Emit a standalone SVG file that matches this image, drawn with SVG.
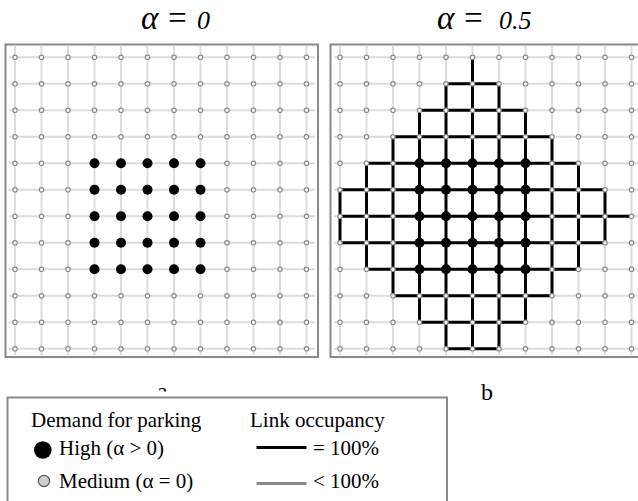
<svg xmlns="http://www.w3.org/2000/svg" xmlns:xlink="http://www.w3.org/1999/xlink" width="638" height="501" viewBox="0 0 638 501">
<style>
.title{font-family:"Liberation Serif",Tinos,"Times New Roman",Times,"Noto Serif","DejaVu Serif",FreeSerif,serif;font-style:italic;fill:#000}
.lbl{font-family:"Liberation Serif",Tinos,"Times New Roman",Times,"Noto Serif","DejaVu Serif",FreeSerif,serif;font-size:24px;fill:#000}
.leg{font-family:"Liberation Serif",Tinos,"Times New Roman",Times,"Noto Serif","DejaVu Serif",FreeSerif,serif;font-size:21px;fill:#000}
.frame{fill:#fff;stroke:#8a8a8a;stroke-width:2}
.grid{fill:none;stroke:#dcdcdc;stroke-width:2}
.full{fill:none;stroke:#000;stroke-width:3;stroke-linecap:square}
.sn{fill:#fff;stroke:#8a8a8a;stroke-width:1.2}
.hi{fill:#000}
</style>
<defs>
<path id="gridpath" class="grid" d="M-6 0H300M-6 26.5H300M-6 53H300M-6 79.5H300M-6 106H300M-6 132.5H300M-6 159H300M-6 185.5H300M-6 212H300M-6 238.5H300M-6 265H300M-6 291.5H300M0 -12V298M26.5 -12V298M53 -12V298M79.5 -12V298M106 -12V298M132.5 -12V298M159 -12V298M185.5 -12V298M212 -12V298M238.5 -12V298M265 -12V298M291.5 -12V298"/>
<g id="row">
<circle class="sn" cx="0" cy="0" r="2.2"/><circle class="sn" cx="26.5" cy="0" r="2.2"/><circle class="sn" cx="53" cy="0" r="2.2"/><circle class="sn" cx="79.5" cy="0" r="2.2"/><circle class="sn" cx="106" cy="0" r="2.2"/><circle class="sn" cx="132.5" cy="0" r="2.2"/><circle class="sn" cx="159" cy="0" r="2.2"/><circle class="sn" cx="185.5" cy="0" r="2.2"/><circle class="sn" cx="212" cy="0" r="2.2"/><circle class="sn" cx="238.5" cy="0" r="2.2"/><circle class="sn" cx="265" cy="0" r="2.2"/><circle class="sn" cx="291.5" cy="0" r="2.2"/>
</g>
<g id="hirow">
<circle class="hi" cx="79.5" cy="0" r="5"/><circle class="hi" cx="106" cy="0" r="5"/><circle class="hi" cx="132.5" cy="0" r="5"/><circle class="hi" cx="159" cy="0" r="5"/><circle class="hi" cx="185.5" cy="0" r="5"/>
</g>
</defs>
<rect width="638" height="501" fill="#fff"/>

<g id="title-a"><text class="title" y="29"><tspan x="141" font-size="33">α</tspan><tspan x="166" font-size="33">=</tspan><tspan x="197" font-size="26">0</tspan></text></g>
<g id="title-b"><text class="title" y="29"><tspan x="437" font-size="33">α</tspan><tspan x="462" font-size="33">=</tspan><tspan x="499" font-size="26">0.5</tspan></text></g>

<g id="panel-a">
<rect class="frame" x="5.5" y="44.5" width="312.5" height="312.5"/>
<g transform="translate(15,57.3)">
<g id="links-a"><use xlink:href="#gridpath"/></g>
<g id="nodes-a">
<use id="a-r0" xlink:href="#row" y="0"/><use id="a-r1" xlink:href="#row" y="26.5"/><use id="a-r2" xlink:href="#row" y="53"/><use id="a-r3" xlink:href="#row" y="79.5"/><use id="a-r4" xlink:href="#row" y="106"/><use id="a-r5" xlink:href="#row" y="132.5"/><use id="a-r6" xlink:href="#row" y="159"/><use id="a-r7" xlink:href="#row" y="185.5"/><use id="a-r8" xlink:href="#row" y="212"/><use id="a-r9" xlink:href="#row" y="238.5"/><use id="a-r10" xlink:href="#row" y="265"/><use id="a-r11" xlink:href="#row" y="291.5"/>
</g>
<g id="high-a">
<use id="a-h4" xlink:href="#hirow" y="106"/><use id="a-h5" xlink:href="#hirow" y="132.5"/><use id="a-h6" xlink:href="#hirow" y="159"/><use id="a-h7" xlink:href="#hirow" y="185.5"/><use id="a-h8" xlink:href="#hirow" y="212"/>
</g>
</g>
</g>

<g id="panel-b">
<rect class="frame" x="330.5" y="44.5" width="320" height="312.5"/>
<g transform="translate(340,57.3)">
<g id="links-b">
<use xlink:href="#gridpath"/>
<path class="full" d="M106 26.5H159M79.5 53H185.5M53 79.5H212M26.5 106H238.5M0 132.5H265M0 159H291.5M0 185.5H265M26.5 212H238.5M53 238.5H212M79.5 265H185.5M106 291.5H159M0 132.5V185.5M26.5 106V212M53 79.5V238.5M79.5 53V265M106 26.5V291.5M132.5 0V291.5M159 26.5V291.5M185.5 53V265M212 79.5V238.5M238.5 106V212M265 132.5V185.5"/>
</g>
<g id="nodes-b">
<use id="b-r0" xlink:href="#row" y="0"/><use id="b-r1" xlink:href="#row" y="26.5"/><use id="b-r2" xlink:href="#row" y="53"/><use id="b-r3" xlink:href="#row" y="79.5"/><use id="b-r4" xlink:href="#row" y="106"/><use id="b-r5" xlink:href="#row" y="132.5"/><use id="b-r6" xlink:href="#row" y="159"/><use id="b-r7" xlink:href="#row" y="185.5"/><use id="b-r8" xlink:href="#row" y="212"/><use id="b-r9" xlink:href="#row" y="238.5"/><use id="b-r10" xlink:href="#row" y="265"/><use id="b-r11" xlink:href="#row" y="291.5"/>
</g>
<g id="high-b">
<use id="b-h4" xlink:href="#hirow" y="106"/><use id="b-h5" xlink:href="#hirow" y="132.5"/><use id="b-h6" xlink:href="#hirow" y="159"/><use id="b-h7" xlink:href="#hirow" y="185.5"/><use id="b-h8" xlink:href="#hirow" y="212"/>
</g>
</g>
</g>

<g id="label-a"><text class="lbl" x="157" y="399">a</text></g>
<g id="label-b"><text class="lbl" x="481" y="400">b</text></g>

<g id="legend">
<rect x="0" y="391.5" width="452" height="110" fill="#fff"/>
<rect x="7.5" y="397.5" width="439.5" height="110" fill="#fff" stroke="#8a8a8a" stroke-width="2"/>
<text class="leg" x="31" y="427">Demand for parking</text>
<text class="leg" x="250" y="427">Link occupancy</text>
<circle cx="42.8" cy="450" r="8.8" fill="#000"/>
<text class="leg" x="59" y="455">High (α &gt; 0)</text>
<circle cx="44" cy="481" r="5.6" fill="#cfcfcf" stroke="#555" stroke-width="1.2"/>
<text class="leg" x="59" y="488">Medium (α = 0)</text>
<line x1="256.5" y1="447.5" x2="306.5" y2="447.5" stroke="#000" stroke-width="3"/>
<text class="leg" x="313" y="455">= 100%</text>
<line x1="256.5" y1="483.5" x2="306.5" y2="483.5" stroke="#8a8a8a" stroke-width="3"/>
<text class="leg" x="313" y="488">&lt; 100%</text>
</g>
</svg>
